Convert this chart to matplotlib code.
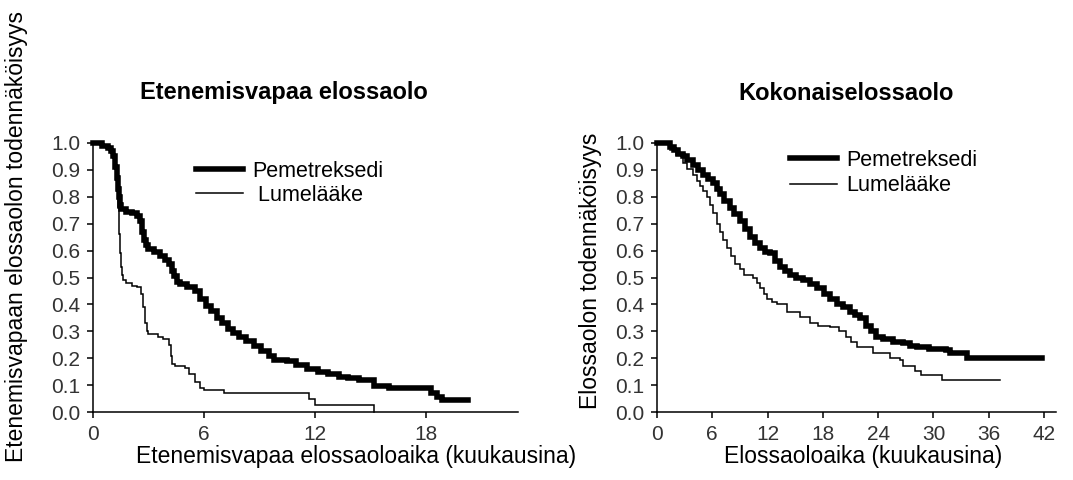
import numpy as np
import matplotlib
matplotlib.use('Agg')
import matplotlib.pyplot as plt

plt.rcParams['font.family'] = ['Liberation Sans', 'DejaVu Sans']

# Etenemisvapaa elossaolo (vasen paneeli)
pfs_pem_t = [0, 0.5, 0.8, 1.0, 1.1, 1.2, 1.3, 1.35, 1.4, 1.45, 1.5, 1.8, 2.1, 2.4, 2.55, 2.65, 2.75,
             2.85, 3.0, 3.3, 3.6, 3.9, 4.1, 4.25, 4.4, 4.55, 4.7, 5.1, 5.5, 5.8, 6.1, 6.4, 6.7, 7.0,
             7.3, 7.6, 7.9, 8.3, 8.7, 9.1, 9.5, 9.8, 10.5, 11.0, 11.6, 12.2, 12.7, 13.3, 13.8, 14.4,
             15.2, 16.0, 17.0, 18.3, 18.6, 18.9, 20.3]
pfs_pem_s = [1.0, 0.99, 0.98, 0.97, 0.95, 0.91, 0.87, 0.83, 0.80, 0.77, 0.755, 0.745, 0.74, 0.73,
             0.71, 0.67, 0.64, 0.62, 0.605, 0.595, 0.58, 0.565, 0.55, 0.525, 0.505, 0.485, 0.475,
             0.465, 0.45, 0.42, 0.395, 0.375, 0.35, 0.33, 0.31, 0.295, 0.28, 0.265, 0.245, 0.225,
             0.21, 0.195, 0.19, 0.175, 0.16, 0.15, 0.14, 0.13, 0.125, 0.12, 0.095, 0.09, 0.09, 0.07,
             0.055, 0.045, 0.045]
pfs_plac_t = [0, 0.5, 0.8, 1.0, 1.1, 1.2, 1.3, 1.35, 1.4, 1.45, 1.5, 1.55, 1.6, 1.8, 2.1, 2.4, 2.6,
              2.7, 2.8, 2.9, 3.0, 3.5, 3.8, 4.1, 4.2, 4.3, 4.45, 5.0, 5.2, 5.5, 5.8, 6.0, 7.1, 11.7,
              12.0, 15.2]
pfs_plac_s = [1.0, 0.99, 0.98, 0.97, 0.95, 0.91, 0.87, 0.76, 0.66, 0.59, 0.54, 0.51, 0.49, 0.48,
              0.47, 0.465, 0.44, 0.39, 0.33, 0.30, 0.29, 0.28, 0.27, 0.25, 0.21, 0.18, 0.17, 0.165,
              0.14, 0.11, 0.09, 0.08, 0.07, 0.05, 0.025, 0.0]

# Kokonaiselossaolo (oikea paneeli)
os_pem_t = [0, 1.4, 1.8, 2.3, 2.8, 3.3, 3.9, 4.4, 5.0, 5.5, 6.1, 6.5, 6.8, 7.3, 7.9, 8.4, 9.0, 9.5,
            10.1, 10.6, 11.2, 11.7, 12.3, 12.8, 13.3, 13.9, 14.4, 15.1, 15.8, 16.6, 17.4, 18.1, 18.8,
            19.5, 20.2, 20.9, 21.5, 22.0, 22.7, 23.2, 23.8, 24.5, 25.6, 26.7, 27.5, 28.2, 29.5, 31.4,
            31.8, 33.6, 41.8]
os_pem_s = [1.0, 0.985, 0.975, 0.96, 0.95, 0.935, 0.92, 0.90, 0.88, 0.865, 0.85, 0.83, 0.81, 0.785,
            0.76, 0.735, 0.71, 0.68, 0.65, 0.63, 0.61, 0.595, 0.59, 0.56, 0.54, 0.525, 0.51, 0.50,
            0.49, 0.475, 0.46, 0.44, 0.42, 0.40, 0.39, 0.37, 0.36, 0.35, 0.32, 0.30, 0.28, 0.27,
            0.26, 0.255, 0.245, 0.24, 0.235, 0.23, 0.22, 0.20, 0.20]
os_plac_t = [0, 1.4, 2.1, 2.8, 3.3, 3.9, 4.3, 4.7, 5.0, 5.4, 5.8, 6.1, 6.5, 6.8, 7.2, 7.6, 8.0, 8.5,
             9.0, 9.4, 10.4, 10.8, 11.2, 11.6, 11.9, 12.5, 13.0, 14.1, 15.5, 16.6, 17.5, 18.8, 19.8,
             20.5, 21.0, 21.7, 23.4, 24.9, 25.3, 26.4, 26.7, 28.0, 28.7, 30.9, 37.2]
os_plac_s = [1.0, 0.975, 0.955, 0.925, 0.905, 0.88, 0.86, 0.84, 0.82, 0.80, 0.77, 0.74, 0.70, 0.67,
             0.64, 0.61, 0.58, 0.55, 0.53, 0.51, 0.50, 0.48, 0.46, 0.44, 0.42, 0.41, 0.40, 0.37,
             0.355, 0.33, 0.32, 0.315, 0.30, 0.28, 0.26, 0.24, 0.22, 0.22, 0.20, 0.195, 0.17, 0.153,
             0.138, 0.12, 0.12]

y_ticks = [0.0, 0.1, 0.2, 0.3, 0.4, 0.5, 0.6, 0.7, 0.8, 0.9, 1.0]
pfs_xticks = [0, 6, 12, 18]
os_xticks = [0, 6, 12, 18, 24, 30, 36, 42]
series_names = ['Pemetreksedi', 'Lumelääke']

W, H = 1073, 480


def px(x, y):
    return x / W, 1 - y / H


def setup_axes(ax, xmax, xticks):
    ax.set_xlim(0, xmax)
    ax.set_ylim(0, 1.0)
    ax.set_xticks(xticks)
    ax.set_yticks(y_ticks)
    ax.set_yticklabels(['%.1f' % v for v in y_ticks])
    for s in ['top', 'right']:
        ax.spines[s].set_visible(False)
    for s in ['left', 'bottom']:
        ax.spines[s].set_linewidth(1.1)
    ax.tick_params(direction='out', length=4, width=1.1, labelsize=15,
                   labelcolor='#333333', pad=5)


def draw_km(ax, t, s, lw):
    ax.plot(t, s, drawstyle='steps-post', color='black', lw=lw,
            solid_joinstyle='miter', clip_on=False)


fig = plt.figure(figsize=(W / 100, H / 100), dpi=100)

ax1 = fig.add_axes([93 / W, 1 - 412 / H, 425 / W, 269 / H])
setup_axes(ax1, 23, pfs_xticks)
draw_km(ax1, pfs_pem_t, pfs_pem_s, 4.0)
draw_km(ax1, pfs_plac_t, pfs_plac_s, 1.1)
ax1.legend(series_names[:1] + [' ' + series_names[1]], loc='upper left',
           bbox_to_anchor=px(196, 161), bbox_transform=fig.transFigure,
           frameon=False, fontsize=15.5, handlelength=2.2, handletextpad=0.4,
           borderpad=0, borderaxespad=0, labelspacing=0.12)

ax2 = fig.add_axes([657 / W, 1 - 412 / H, 399 / W, 269 / H])
setup_axes(ax2, 43.3, os_xticks)
draw_km(ax2, os_pem_t, os_pem_s, 4.0)
draw_km(ax2, os_plac_t, os_plac_s, 1.1)
ax2.legend(series_names, loc='upper left',
           bbox_to_anchor=px(790, 150), bbox_transform=fig.transFigure,
           frameon=False, fontsize=15.5, handlelength=2.2, handletextpad=0.4,
           borderpad=0, borderaxespad=0, labelspacing=0.2)

fig.text(*px(140, 93), 'Etenemisvapaa elossaolo', ha='left', va='center',
         fontsize=17, fontweight='bold')
fig.text(*px(738, 93), 'Kokonaiselossaolo', ha='left', va='center',
         fontsize=17, fontweight='bold')

fig.text(*px(17, 237), 'Etenemisvapaan elossaolon todennäköisyys', rotation=90,
         ha='center', va='center', fontsize=16.5)
fig.text(*px(590, 271), 'Elossaolon todennäköisyys', rotation=90,
         ha='center', va='center', fontsize=16.5)
fig.text(*px(356, 457), 'Etenemisvapaa elossaoloaika (kuukausina)',
         ha='center', va='center', fontsize=16.5)
fig.text(*px(863, 457), 'Elossaoloaika (kuukausina)',
         ha='center', va='center', fontsize=16.5)

fig.savefig('out.png', dpi=100)
